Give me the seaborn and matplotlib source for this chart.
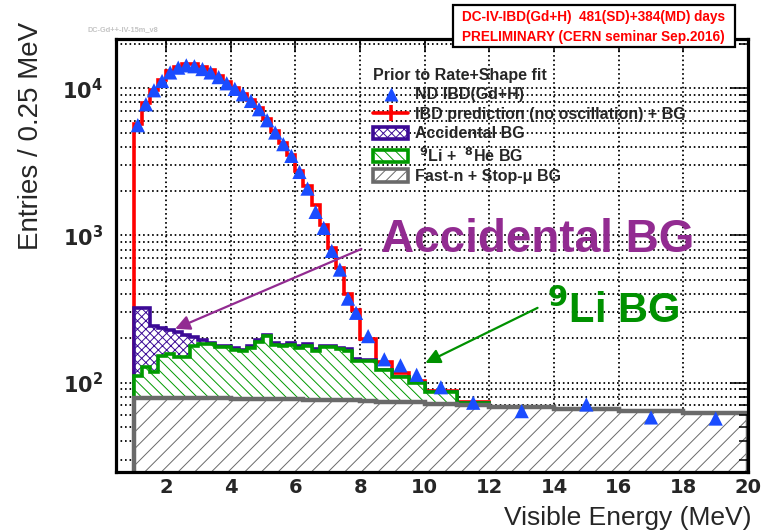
import numpy as np
import pandas as pd
import matplotlib
matplotlib.use("Agg")
import matplotlib.pyplot as plt
import seaborn as sns
from matplotlib.ticker import FixedLocator, FuncFormatter, NullFormatter
from matplotlib.lines import Line2D
from matplotlib.patches import Patch, Rectangle

# ---------------- data ----------------
bin_edges = [1.0, 1.25, 1.5, 1.75, 2.0, 2.25, 2.5, 2.75, 3.0, 3.25, 3.5, 3.75,
             4.0, 4.25, 4.5, 4.75, 5.0, 5.25, 5.5, 5.75, 6.0, 6.25, 6.5, 6.75,
             7.0, 7.25, 7.5, 7.75, 8.0, 8.5, 9.0, 9.5, 10.0, 11.0, 12.0,
             14.0, 16.0, 18.0, 20.0]

nd_ibd_data = [5610, 7780, 9680, 11200, 12800, 13800, 14300, 14100, 13500, 12800,
               11900, 10800, 9900, 9100, 8200, 7200, 6060, 5000, 4170, 3470,
               2700, 2080, 1445, 1125, 785, 586, 372, 298,
               207, 144, 131, 113, 93, 73, 64, 71, 58, 57]

ibd_pred_total = [5700, 7900, 9800, 11400, 13000, 14000, 14500, 14500, 14000, 13200,
                  12200, 11100, 10100, 9200, 8300, 7300, 6200, 5100, 4250, 3500,
                  2750, 2150, 1600, 1180, 820, 600, 400, 310,
                  197, 139, 117, 103, 88, 74, 68, 66, 64, 62]

accidental_top = [320, 320, 244, 234, 228, 220, 211, 203, 195, 185,
                  178, 178, 171, 167, 176, 195, 211, 185, 181, 185,
                  176, 182, 168, 178, 178, 173, 168, 144,
                  143, 122, 110, 100, 87, 73, 68, 66, 64, 62]

li_he_top = [111, 127, 118, 152, 156, 150, 150, 176, 182, 182,
             174, 174, 167, 163, 171, 190, 206, 180, 176, 180,
             171, 178, 164, 174, 174, 169, 164, 141,
             141, 121, 109, 99.6, 86.5, 72.8, 68, 66, 64, 62]

fastn_top = [78.5, 78.5, 78.5, 78.5, 78.3, 78.3, 78.3, 78.3, 78, 78,
             78, 78, 77.5, 77.5, 77.5, 77.5, 77, 77, 77, 77,
             77, 76.5, 76.5, 76.5, 76.5, 76, 76, 76,
             75, 74, 74, 74, 72, 70.5, 68, 66, 64, 62]

x_ticks = [2, 4, 6, 8, 10, 12, 14, 16, 18, 20]
y_major = [100, 1000, 10000]

# ---------------- styling ----------------
sns.set_theme(style="white")
plt.rcParams["font.family"] = ["Liberation Sans", "DejaVu Sans"]
plt.rcParams["mathtext.fontset"] = "dejavusans"
plt.rcParams["hatch.linewidth"] = 0.7

C_DATA = "#1a4cff"
C_RED = "#ff0000"
C_ACC = "#3c0a96"
C_LI = "#009a00"
C_FN = "#6a6a6a"
C_ACC_TXT = "#922b91"
C_LI_TXT = "#009100"

edges = np.array(bin_edges)
centers = (edges[:-1] + edges[1:]) / 2
df = pd.DataFrame({"E": centers, "data": nd_ibd_data, "pred": ibd_pred_total,
                   "acc": accidental_top, "li": li_he_top, "fn": fastn_top})

W, H = 767, 531
fig = plt.figure(figsize=(W / 100, H / 100), dpi=100)
fig.patch.set_facecolor("white")
pos = [116 / W, 1 - 472 / H, (748 - 116) / W, (472 - 39) / H]
ax = fig.add_axes(pos)
ax.set_yscale("log")

XLIM = (0.45, 20.0)
YLIM = (24.7, 21600)
BASE = 1.0  # stairs baseline, below the visible range (ROOT-style drop lines)

minor_y = [m * 10 ** d for d in (1, 2, 3, 4) for m in range(2, 10)
           if YLIM[0] <= m * 10 ** d <= YLIM[1]]

# histograms (stacked tops), drawn as steps through the axes
ax.stairs(df["pred"], bin_edges, baseline=BASE, fill=False,
          edgecolor=C_RED, linewidth=2.6, zorder=2)
ax.stairs(df["acc"], bin_edges, baseline=BASE, fill=True, facecolor="white",
          edgecolor=C_ACC, linewidth=2.6, hatch="xxxx", zorder=3)
ax.stairs(df["li"], bin_edges, baseline=BASE, fill=True, facecolor="white",
          edgecolor=C_LI, linewidth=2.6, hatch="\\\\\\", zorder=4)
ax.stairs(df["fn"], bin_edges, baseline=BASE, fill=True, facecolor="white",
          edgecolor=C_FN, linewidth=3.2, hatch="//", zorder=5)
sns.scatterplot(data=df, x="E", y="data", marker="^", s=105, color=C_DATA,
                edgecolor="none", linewidth=0, ax=ax, zorder=6, legend=False)

ax.set_xlim(*XLIM)
ax.set_ylim(*YLIM)
ax.set_xlabel("")
ax.set_ylabel("")

# dotted grid, above the white background but below the hatched fills
grid_kw = dict(color="black", lw=1.3, ls=(0, (0.9, 1.6)), zorder=1.5)
for xv in x_ticks[:-1]:
    ax.axvline(xv, **grid_kw)
for yv in y_major + minor_y:
    ax.axhline(yv, **grid_kw)

# labels on main axes
ax.xaxis.set_major_locator(FixedLocator(x_ticks))
ax.yaxis.set_major_locator(FixedLocator(y_major))
ax.yaxis.set_minor_locator(FixedLocator(minor_y))
ax.yaxis.set_minor_formatter(NullFormatter())
ax.yaxis.set_major_formatter(FuncFormatter(lambda v, p: r"$\mathbf{10^{%d}}$" % round(np.log10(v))))
ax.tick_params(axis="both", which="both", length=0)
ax.tick_params(axis="x", pad=4.5, labelsize=14)
ax.tick_params(axis="y", pad=9.5, labelsize=15)
for lab in ax.get_xticklabels():
    lab.set_fontfamily("DejaVu Sans")
    lab.set_fontweight("bold")
for s in ax.spines.values():
    s.set_visible(False)

# overlay axes for ticks and frame on top of the hatched fills
ax2 = fig.add_axes(pos, facecolor="none", zorder=ax.get_zorder() + 1)
ax2.patch.set_visible(False)
ax2.set_yscale("log")
ax2.set_xlim(*XLIM)
ax2.set_ylim(*YLIM)
ax2.xaxis.set_major_locator(FixedLocator(x_ticks))
ax2.yaxis.set_major_locator(FixedLocator(y_major))
ax2.yaxis.set_minor_locator(FixedLocator(minor_y))
ax2.xaxis.set_minor_locator(FixedLocator([]))
ax2.tick_params(axis="both", which="both", direction="in", top=True, right=True,
                labelbottom=False, labelleft=False, color="black", width=1.1)
ax2.tick_params(axis="x", which="major", length=9)
ax2.tick_params(axis="y", which="major", length=13)
ax2.tick_params(axis="y", which="minor", length=6.5)
for s in ax2.spines.values():
    s.set_linewidth(2.3)
    s.set_color("black")

# legend
handles = [
    Line2D([], [], ls="none", marker="^", ms=10, color=C_DATA, mec="none"),
    Line2D([], [], color=C_RED, lw=2.6, marker="|", ms=11, mew=2.6),
    Patch(facecolor="white", edgecolor=C_ACC, hatch="xxxx", lw=2.6),
    Patch(facecolor="white", edgecolor=C_LI, hatch="\\\\\\", lw=2.6),
    Patch(facecolor="white", edgecolor=C_FN, hatch="///", lw=2.6),
]
labels = ["ND IBD(Gd+H)",
          "IBD prediction (no oscillation) + BG",
          "Accidental BG",
          r" $^{\mathbf{9}}$Li +  $^{\mathbf{8}}$He BG",
          "Fast-n + Stop-\u03bc BG"]
leg = ax2.legend(handles, labels, title="Prior to Rate+Shape fit",
                 loc="upper left", bbox_to_anchor=(373 / W, 1 - 68 / H),
                 bbox_transform=fig.transFigure, frameon=False,
                 borderpad=0, borderaxespad=0, handlelength=2.2, handleheight=0.8,
                 handletextpad=0.45, labelspacing=0.28,
                 prop={"family": "Liberation Sans", "weight": "bold", "size": 11.5},
                 title_fontproperties={"family": "Liberation Sans", "weight": "bold", "size": 11.5},
                 alignment="left")

# axis titles
fig.text(752 / W, 1 - 525 / H, "Visible Energy (MeV)", ha="right", va="baseline",
         fontsize=19, family="Liberation Sans")
fig.text(31 / W, 1 - 136 / H, "Entries / 0.25 MeV", ha="center", va="center",
         rotation=90, fontsize=20, family="Liberation Sans")

# small tag
fig.text(88 / W, 1 - 30 / H, "DC-Gd++-IV-15m_v8", ha="left", va="center",
         fontsize=5.3, color="#c4c4c4", family="Liberation Sans", weight="bold")

# red info box
fig.add_artist(Rectangle((453 / W, 1 - 47 / H), (735 - 453) / W, (47 - 5) / H,
                         transform=fig.transFigure, facecolor="white",
                         edgecolor="black", lw=1.6, zorder=10))
fig.text(462 / W, 1 - 17 / H, "DC-IV-IBD(Gd+H)  481(SD)+384(MD) days", ha="left",
         va="center", fontsize=9.8, color="red", weight="bold",
         family="Liberation Sans", zorder=11)
fig.text(462 / W, 1 - 37 / H, "PRELIMINARY (CERN seminar Sep.2016)", ha="left",
         va="center", fontsize=9.8, color="red", weight="bold",
         family="Liberation Sans", zorder=11)

# big annotations with arrows
ax2.annotate("", xy=(2.28, 232), xytext=(8.04, 809),
             arrowprops=dict(arrowstyle="-|>", color=C_ACC_TXT, lw=1.6,
                             mutation_scale=22, shrinkA=0, shrinkB=0))
ax2.annotate("", xy=(10.02, 136), xytext=(13.49, 322),
             arrowprops=dict(arrowstyle="-|>", color=C_LI_TXT, lw=1.6,
                             mutation_scale=22, shrinkA=0, shrinkB=0))
fig.text(381 / W, 1 - 252 / H, "Accidental BG", ha="left", va="baseline",
         fontsize=33, color=C_ACC_TXT, weight="bold", family="Liberation Sans")
fig.text(547 / W, 1 - 323 / H, r"$^{\mathbf{9}}$Li BG", ha="left", va="baseline",
         fontsize=30, color=C_LI_TXT, weight="bold", family="Liberation Sans")

fig.savefig("out.png", dpi=100, facecolor="white")
